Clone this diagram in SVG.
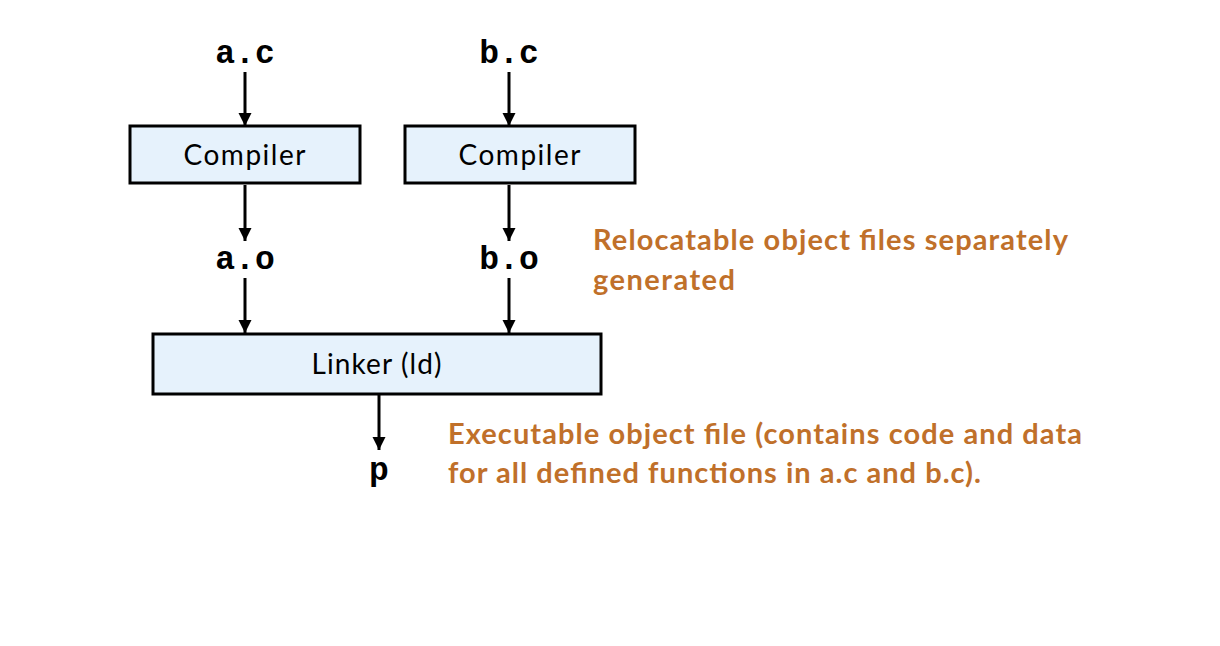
<svg xmlns="http://www.w3.org/2000/svg" width="1220" height="646" viewBox="0 0 1220 646">
<style>
.box{fill:#e6f2fc;stroke:#000;stroke-width:3}
.lbl{font-family:"Lato","Liberation Sans",sans-serif;font-size:28px;letter-spacing:1px;fill:#000;text-anchor:middle}
.code{font-family:"Liberation Mono","DejaVu Sans Mono",monospace;font-weight:bold;font-size:33px;fill:#000;text-anchor:middle}
.note{font-family:"Lato","Liberation Sans",sans-serif;font-size:29px;font-weight:bold;fill:#c0702a}
.conn{stroke:#000;stroke-width:3;fill:none}
</style>
<defs>
<marker id="arr" viewBox="0 0 10 10" refX="10" refY="5" markerWidth="4.5" markerHeight="4.5" orient="auto" markerUnits="strokeWidth">
<path d="M0,0 L10,5 L0,10 z" fill="#000"/>
</marker>
</defs>
<rect width="1220" height="646" fill="#fff"/>
<g id="connectors">
<line class="conn" x1="245" y1="72" x2="245" y2="126" marker-end="url(#arr)"/>
<line class="conn" x1="509" y1="72" x2="509" y2="126" marker-end="url(#arr)"/>
<line class="conn" x1="245" y1="185" x2="245" y2="241" marker-end="url(#arr)"/>
<line class="conn" x1="509" y1="185" x2="509" y2="241" marker-end="url(#arr)"/>
<line class="conn" x1="245" y1="278" x2="245" y2="333" marker-end="url(#arr)"/>
<line class="conn" x1="509" y1="278" x2="509" y2="333" marker-end="url(#arr)"/>
<line class="conn" x1="379" y1="395" x2="379" y2="450" marker-end="url(#arr)"/>
</g>
<g id="src-a"><text class="code" x="245" y="63">a.c</text></g>
<g id="src-b"><text class="code" x="509" y="63">b.c</text></g>
<g id="compiler-a"><rect class="box" x="130" y="126" width="230" height="57"/><text class="lbl" x="245" y="165" textLength="123">Compiler</text></g>
<g id="compiler-b"><rect class="box" x="405" y="126" width="230" height="57"/><text class="lbl" x="520" y="165" textLength="123">Compiler</text></g>
<g id="obj-a"><text class="code" x="245" y="269">a.o</text></g>
<g id="obj-b"><text class="code" x="509" y="269">b.o</text></g>
<g id="linker"><rect class="box" x="153" y="334" width="448" height="60"/><text class="lbl" x="377" y="374" textLength="131">Linker (ld)</text></g>
<g id="exe-p"><text class="code" x="379" y="480">p</text></g>
<g id="note-reloc"><text class="note" x="593" y="250" textLength="475">Relocatable object files separately</text><text class="note" x="593" y="290" textLength="142">generated</text></g>
<g id="note-exec"><text class="note" x="448" y="444" textLength="634">Executable object file (contains code and data</text><text class="note" x="448" y="483" textLength="533">for all defined functions in a.c and b.c).</text></g>
</svg>
